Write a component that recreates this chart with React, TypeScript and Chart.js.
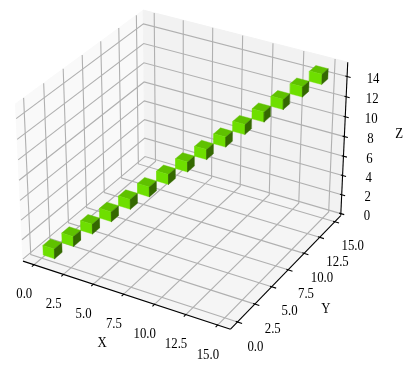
import React, { useEffect, useRef } from "react";
import { Chart, registerables } from "chart.js";

Chart.register(...registerables);

const voxelX = [0, 1, 2, 3, 4, 5, 6, 7, 8, 9, 10, 11, 12, 13, 14];
const voxelY = [0, 1, 2, 3, 4, 5, 6, 7, 8, 9, 10, 11, 12, 13, 14];
const voxelZ = [0, 1, 2, 3, 4, 5, 6, 7, 8, 9, 10, 11, 12, 13, 14];
const xTicks = [0, 2.5, 5, 7.5, 10, 12.5, 15];
const yTicks = [0, 2.5, 5, 7.5, 10, 12.5, 15];
const zTicks = [0, 2, 4, 6, 8, 10, 12, 14];
const xTickLabels = ["0.0", "2.5", "5.0", "7.5", "10.0", "12.5", "15.0"];
const yTickLabels = ["0.0", "2.5", "5.0", "7.5", "10.0", "12.5", "15.0"];
const zTickLabels = ["0", "2", "4", "6", "8", "10", "12", "14"];
const xLim = [-0.95, 16];
const yLim = [-1, 16];
const zLim = [-0.2, 15.4];

const W = 415;
const H = 373;
const SCALE_X = 1997;
const SCALE_Y = 2007;
const CX = 184.8;
const CY = 162;
const BOX = [1.1905, 1.1905, 0.8929];
const FONT = '12.8px "Liberation Serif"';
const TEXT_STRETCH = 1.2;
const VOXEL_OFFSET = 0.08;
const VOXEL_PITCH = 0.994;
const VOXEL_SIZE = 0.98;

const el = (30 * Math.PI) / 180;
const az = (-60 * Math.PI) / 180;
const n = [Math.cos(el) * Math.cos(az), Math.cos(el) * Math.sin(az), Math.sin(el)];
const u = [-Math.sin(az), Math.cos(az), 0];
const v = [n[1] * u[2] - n[2] * u[1], n[2] * u[0] - n[0] * u[2], n[0] * u[1] - n[1] * u[0]];
const dot = (a: number[], b: number[]) => a[0] * b[0] + a[1] * b[1] + a[2] * b[2];

function project(x: number, y: number, z: number) {
  const d = [
    ((x - xLim[0]) / (xLim[1] - xLim[0]) - 0.5) * BOX[0],
    ((y - yLim[0]) / (yLim[1] - yLim[0]) - 0.5) * BOX[1],
    ((z - zLim[0]) / (zLim[1] - zLim[0]) - 0.5) * BOX[2],
  ];
  const depth = 10 - dot(n, d);
  return { x: dot(u, d) / depth, y: dot(v, d) / depth };
}

type P3 = [number, number, number];
const path = (pts: P3[]) => pts.map((p) => project(p[0], p[1], p[2]));

const [x0, x1] = xLim;
const [y0, y1] = yLim;
const [z0, z1] = zLim;

let zOrder = 0;
function lineSet(pts: P3[], color: string, width: number, fillColor?: string) {
  zOrder -= 1;
  return {
    data: path(pts),
    showLine: true,
    borderColor: color,
    borderWidth: width,
    pointRadius: 0,
    pointHoverRadius: 0,
    tension: 0,
    polyFill: fillColor,
    order: zOrder,
    clip: false,
  };
}

const GRID = "#b0b0b0";
const BLACK = "#000000";
const TOP = "rgb(95,193,0)";
const FRONT = "rgb(110,223,0)";
const SIDE = "rgb(52,105,0)";

function buildDatasets() {
  const sets: any[] = [];
  const leftPane: P3[] = [[x0, y0, z0], [x0, y1, z0], [x0, y1, z1], [x0, y0, z1], [x0, y0, z0]];
  const backPane: P3[] = [[x0, y1, z0], [x1, y1, z0], [x1, y1, z1], [x0, y1, z1], [x0, y1, z0]];
  const floorPane: P3[] = [[x0, y0, z0], [x1, y0, z0], [x1, y1, z0], [x0, y1, z0], [x0, y0, z0]];
  sets.push(lineSet(leftPane, "rgb(249,249,249)", 1, "rgb(249,249,249)"));
  sets.push(lineSet(backPane, "rgb(242,242,242)", 1, "rgb(242,242,242)"));
  sets.push(lineSet(floorPane, "rgb(245,245,245)", 1, "rgb(245,245,245)"));

  xTicks.forEach((t) => sets.push(lineSet([[t, y0, z0], [t, y1, z0], [t, y1, z1]], GRID, 1.1)));
  yTicks.forEach((t) => sets.push(lineSet([[x1, t, z0], [x0, t, z0], [x0, t, z1]], GRID, 1.1)));
  zTicks.forEach((t) => sets.push(lineSet([[x0, y0, t], [x0, y1, t], [x1, y1, t]], GRID, 1.1)));

  sets.push(lineSet([[x0, y0, z0], [x1, y0, z0]], BLACK, 1.1));
  sets.push(lineSet([[x1, y0, z0], [x1, y1, z0]], BLACK, 1.1));
  sets.push(lineSet([[x1, y1, z0], [x1, y1, z1]], BLACK, 1.1));

  xTicks.forEach((t) => sets.push(lineSet([[t, y0 + 0.05, z0], [t, y0 - 0.28, z0]], BLACK, 1.1)));
  yTicks.forEach((t) => sets.push(lineSet([[x1 - 0.14, t, z0], [x1 + 0.35, t, z0]], BLACK, 1.1)));
  zTicks.forEach((t) => sets.push(lineSet([[x1 - 0.14, y1, t], [x1 + 0.28, y1, t]], BLACK, 1.1)));

  voxelX.forEach((vx0, i) => {
    const vx = VOXEL_OFFSET + vx0 * VOXEL_PITCH;
    const vy = VOXEL_OFFSET + voxelY[i] * VOXEL_PITCH;
    const vz = 0.1 + voxelZ[i] * 0.993;
    const a = vx + VOXEL_SIZE;
    const b = vy + VOXEL_SIZE;
    const c = vz + 1;
    sets.push(lineSet([[vx, vy, c], [a, vy, c], [a, b, c], [vx, b, c], [vx, vy, c]], TOP, 0.4, TOP));
    sets.push(lineSet([[vx, vy, vz], [a, vy, vz], [a, vy, c], [vx, vy, c], [vx, vy, vz]], FRONT, 0.4, FRONT));
    sets.push(lineSet([[a, vy, vz], [a, b, vz], [a, b, c], [a, vy, c], [a, vy, vz]], SIDE, 0.4, SIDE));
  });
  return sets;
}

const polygonFill = {
  id: "polygonFill",
  beforeDatasetDraw(chart: any, args: any) {
    const ds = chart.data.datasets[args.index];
    if (!ds.polyFill) return;
    const pts = args.meta.data;
    const ctx = chart.ctx;
    ctx.save();
    ctx.beginPath();
    pts.forEach((p: any, i: number) => (i ? ctx.lineTo(p.x, p.y) : ctx.moveTo(p.x, p.y)));
    ctx.closePath();
    ctx.fillStyle = ds.polyFill;
    ctx.fill();
    ctx.restore();
  },
};

const axisText = {
  id: "axisText",
  afterDraw(chart: any) {
    const { ctx, scales } = chart;
    const put = (text: string, p: { x: number; y: number }, dx: number, dy: number) => {
      ctx.save();
      ctx.translate(scales.x.getPixelForValue(p.x) + dx, scales.y.getPixelForValue(p.y) + dy);
      ctx.scale(1, TEXT_STRETCH);
      ctx.fillText(text, 0, 0);
      ctx.restore();
    };
    ctx.save();
    ctx.font = FONT;
    ctx.fillStyle = "#000000";
    ctx.textAlign = "center";
    ctx.textBaseline = "middle";
    xTicks.forEach((t, i) => put(xTickLabels[i], project(t, y0, z0), -9.8, 29.5));
    yTicks.forEach((t, i) => put(yTickLabels[i], project(x1, t, z0), 17.9, 24.5));
    zTicks.forEach((t, i) => put(zTickLabels[i], project(x1, y1, t), 26, 2.5));
    put("X", project(7.5, y0, z0), -21.5, 48.5);
    put("Y", project(x1, 7.5, z0), 37.7, 38.7);
    put("Z", project(x1, y1, 7.5), 55, -8);
    ctx.restore();
  },
};

export default function App() {
  const ref = useRef<HTMLCanvasElement | null>(null);
  useEffect(() => {
    if (!ref.current) return;
    zOrder = 0;
    const chart = new Chart(ref.current, {
      type: "scatter",
      data: { datasets: buildDatasets() },
      options: {
        animation: false,
        responsive: false,
        events: [],
        layout: { padding: 0 },
        plugins: { legend: { display: false }, tooltip: { enabled: false } },
        scales: {
          x: { type: "linear", display: false, min: -CX / SCALE_X, max: (W - CX) / SCALE_X },
          y: { type: "linear", display: false, min: (CY - H) / SCALE_Y, max: CY / SCALE_Y },
        },
      },
      plugins: [polygonFill, axisText],
    } as any);
    return () => chart.destroy();
  }, []);
  return (
    <div style={{ position: "fixed", left: 0, top: 0, width: W, height: H, background: "#fff", overflow: "hidden" }}>
      <canvas ref={ref} width={W} height={H} style={{ display: "block", width: W, height: H }} />
    </div>
  );
}
